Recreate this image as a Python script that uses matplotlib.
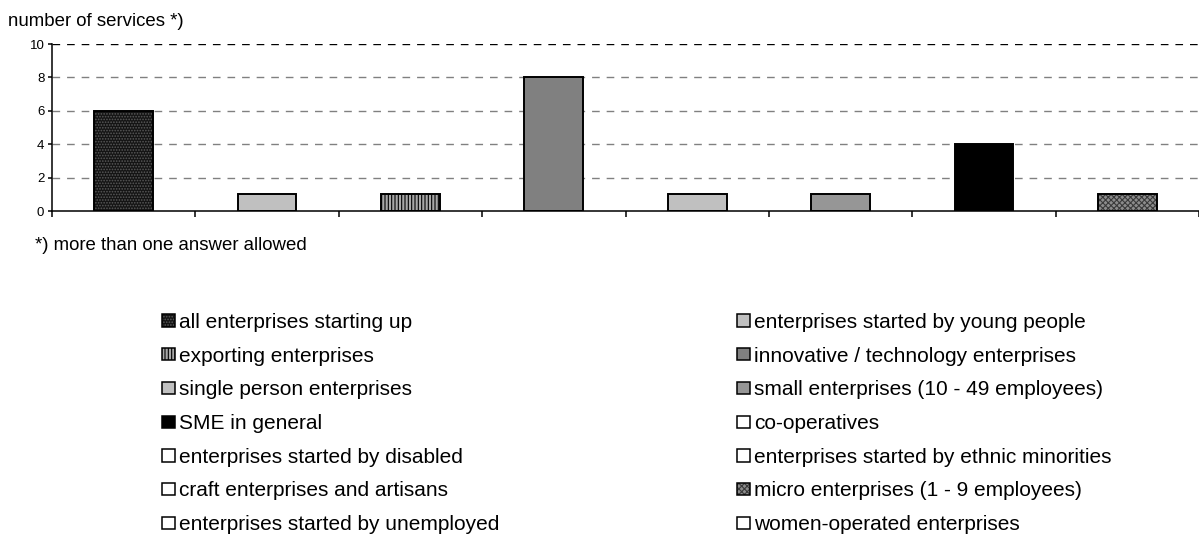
import matplotlib
matplotlib.use("Agg")
import matplotlib.pyplot as plt
from matplotlib.patches import Patch

plt.rcParams['font.family'] = ['Liberation Sans', 'DejaVu Sans']
plt.rcParams['hatch.linewidth'] = 0.8

# Target groups, in legend (row-major) order, with the number of services each
groups = [
    'all enterprises starting up',
    'enterprises started by young people',
    'exporting enterprises',
    'innovative / technology enterprises',
    'single person enterprises',
    'small enterprises (10 - 49 employees)',
    'SME in general',
    'co-operatives',
    'enterprises started by disabled',
    'enterprises started by ethnic minorities',
    'craft enterprises and artisans',
    'micro enterprises (1 - 9 employees)',
    'enterprises started by unemployed',
    'women-operated enterprises',
]
services = [6, 1, 1, 8, 1, 1, 4, 0, 0, 0, 0, 1, 0, 0]
y_ticks = [0, 2, 4, 6, 8, 10]

# fill colour, hatch pattern, hatch colour
styles = {
    'all enterprises starting up': ('#141414', '......', '#5a5a5a'),
    'enterprises started by young people': ('#c0c0c0', None, None),
    'exporting enterprises': ('#a8a8a8', '|||||', '#000000'),
    'innovative / technology enterprises': ('#808080', None, None),
    'single person enterprises': ('#c0c0c0', None, None),
    'small enterprises (10 - 49 employees)': ('#969696', None, None),
    'SME in general': ('#000000', None, None),
    'co-operatives': ('#ffffff', None, None),
    'enterprises started by disabled': ('#ffffff', None, None),
    'enterprises started by ethnic minorities': ('#ffffff', None, None),
    'craft enterprises and artisans': ('#ffffff', None, None),
    'micro enterprises (1 - 9 employees)': ('#8c8c8c', 'xxxxxx', '#3a3a3a'),
    'enterprises started by unemployed': ('#ffffff', None, None),
    'women-operated enterprises': ('#ffffff', None, None),
}

W, H = 1199, 539
fig = plt.figure(figsize=(W / 100, H / 100), dpi=100)
fig.patch.set_facecolor('white')
ax = fig.add_axes([52 / W, 328 / H, 1147 / W, 167 / H])

shown = [(g, v) for g, v in zip(groups, services) if v > 0]
bar_w = 0.41
for i, (g, v) in enumerate(shown):
    fc, hatch, hc = styles[g]
    ax.bar(i + 0.5, v, width=bar_w, color=fc, hatch=hatch,
           edgecolor=hc if hc else 'none', linewidth=0, zorder=3)
    ax.bar(i + 0.5, v, width=bar_w, fill=False, edgecolor='black',
           linewidth=1.4, zorder=4)

for yv in y_ticks[1:]:
    ax.axhline(yv, color='black' if yv == y_ticks[-1] else '#808080',
               linewidth=1.0, dashes=(5.5, 5), zorder=1)

ax.set_xlim(0, len(shown))
ax.set_ylim(y_ticks[0], y_ticks[-1])
ax.set_xticks(range(len(shown) + 1))
ax.set_xticklabels([])
ax.set_yticks(y_ticks)
ax.set_yticklabels([str(t) for t in y_ticks], fontsize=9.5)
ax.tick_params(axis='x', direction='out', length=4.5, width=1.1, color='black')
ax.tick_params(axis='y', direction='out', length=3, width=1.1, color='black', pad=2.5)
for s in ('top', 'right'):
    ax.spines[s].set_visible(False)
for s in ('left', 'bottom'):
    ax.spines[s].set_linewidth(1.1)
    ax.spines[s].set_zorder(5)
ax.patch.set_visible(False)

fig.text(8 / W, 1 - 21 / H, 'number of services *)', fontsize=13.4,
         ha='left', va='center')
fig.text(35 / W, 1 - 246 / H, '*) more than one answer allowed', fontsize=13.4,
         ha='left', va='center')


def handle_for(g):
    fc, hatch, hc = styles[g]
    fill = Patch(facecolor=fc, hatch=hatch, edgecolor=hc if hc else 'none',
                 linewidth=0)
    frame = Patch(fill=False, edgecolor='black', linewidth=1.1)
    return (fill, frame)


left_col = groups[0::2]
right_col = groups[1::2]
legend_kw = dict(loc='upper left', frameon=False, fontsize=15,
                 handlelength=0.63, handleheight=0.53, handletextpad=0.2,
                 labelspacing=0.705, borderpad=0, borderaxespad=0)
for col, x0 in ((left_col, 162), (right_col, 737)):
    fig.legend([handle_for(g) for g in col], col,
               bbox_to_anchor=(x0 / W, 1 - 313 / H), **legend_kw)

fig.savefig('out.png', dpi=100, facecolor='white')
